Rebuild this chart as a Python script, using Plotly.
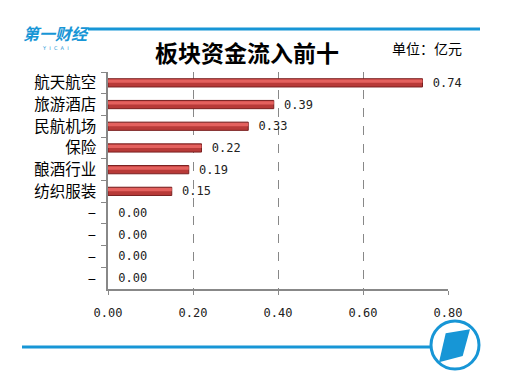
import plotly.graph_objects as go

categories = ["航天航空", "旅游酒店", "民航机场", "保险", "酿酒行业", "纺织服装",
              "–", "–\u200b", "–\u200b\u200b", "–\u200b\u200b\u200b"]
values = [0.74, 0.39, 0.33, 0.22, 0.19, 0.15, 0.00, 0.00, 0.00, 0.00]
x_ticks = [0.0, 0.2, 0.4, 0.6, 0.8]
title_text = "板块资金流入前十"
unit_text = "单位：亿元"

W, H = 507, 388
OFF = 8  # page body margin offset
L0, R0, T0, B0 = 108, 59, 72, 99
L, R, T, B = L0 - OFF, R0 + OFF, T0 - OFF, B0 + OFF
pw, ph = W - L - R, H - T - B

def px(x):
    return (x - L0) / pw

def py(y):
    return (H - B0 - y) / ph

BLUE = "#1796d6"
MONO = "DejaVu Sans Mono, Liberation Mono, monospace"
CJK = "Noto Sans CJK SC, sans-serif"

edge_widths = [1 if v > 0 else 0 for v in values]

fig = go.Figure()
fig.add_trace(go.Bar(
    x=values, y=categories, orientation="h",
    width=0.38,
    marker=dict(color="#b83a38", line=dict(color="#7a2020", width=edge_widths)),
    text=values, texttemplate="\u00a0%{x:.2f}", textposition="outside",
    constraintext="none",
    textfont=dict(family=MONO, size=12, color="#222"),
    cliponaxis=False, hoverinfo="skip",
))
fig.add_trace(go.Bar(
    x=values, y=categories, orientation="h",
    width=0.15, offset=-0.15,
    marker=dict(color="#e4615e", line=dict(width=0)),
    hoverinfo="skip",
))

shapes = [
    dict(type="line", xref="paper", yref="paper", x0=px(88), x1=px(480), y0=py(29), y1=py(29),
         line=dict(color=BLUE, width=3)),
    dict(type="line", xref="paper", yref="paper", x0=px(22), x1=px(430), y0=py(347), y1=py(347),
         line=dict(color=BLUE, width=3)),
    dict(type="circle", xref="paper", yref="paper", x0=px(431), x1=px(479), y0=py(369), y1=py(321),
         line=dict(color=BLUE, width=3), fillcolor="white"),
    dict(type="path", xref="paper", yref="paper",
         path=f"M {px(445.7)},{py(333.3)} L {px(470)},{py(329.3)} L {px(462.7)},{py(356)} L {px(439)},{py(362.3)} Z",
         fillcolor=BLUE, line=dict(width=0)),
]

annotations = [
    dict(text="<b>" + title_text + "</b>", xref="paper", yref="paper", x=px(247), y=py(52), showarrow=False,
         font=dict(family=CJK, size=23, color="#000"), xanchor="center", yanchor="middle"),
    dict(text=unit_text, xref="paper", yref="paper", x=px(390), y=py(48), showarrow=False,
         font=dict(family=CJK, size=14, color="#000"), xanchor="left", yanchor="middle"),
    dict(text="<b><i>第一财经</i></b>", xref="paper", yref="paper", x=px(21), y=py(33), showarrow=False,
         font=dict(family=CJK, size=16, color=BLUE), xanchor="left", yanchor="middle"),
    dict(text="Y  I  C  A  I", xref="paper", yref="paper", x=px(55), y=py(48), showarrow=False,
         font=dict(family="DejaVu Sans", size=5, color=BLUE), xanchor="center", yanchor="middle"),
]

fig.update_layout(
    width=W, height=H,
    margin=dict(l=L, r=R, t=T, b=B, autoexpand=False),
    paper_bgcolor="white", plot_bgcolor="white",
    showlegend=False, barmode="overlay",
    shapes=shapes, annotations=annotations,
    xaxis=dict(range=[0, 0.8], tickvals=x_ticks, tickformat=".2f",
               showgrid=True, gridcolor="#888", griddash="dash", gridwidth=1,
               showline=True, linecolor="#888", linewidth=1.5,
               ticks="outside", ticklen=4, tickcolor="#888",
               ticklabelstandoff=8,
               tickfont=dict(family=MONO, size=12, color="#222"),
               zeroline=False, fixedrange=True),
    yaxis=dict(autorange="reversed", type="category",
               showline=True, linecolor="#888", linewidth=1.5,
               ticks="outside", ticklen=5, tickcolor="#888", tickson="boundaries",
               ticklabelstandoff=7,
               tickfont=dict(family=CJK, size=15.5, color="#000"),
               showgrid=False, fixedrange=True),
)

fig.write_html("out.html")
